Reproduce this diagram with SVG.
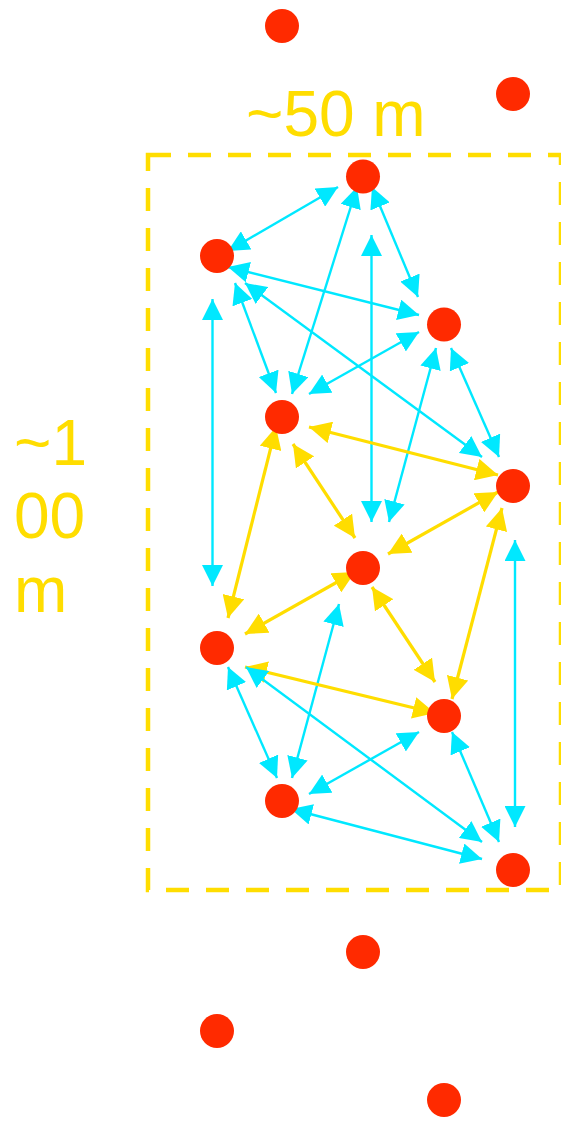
<svg xmlns="http://www.w3.org/2000/svg" width="561" height="1122" viewBox="0 0 561 1122">
<style>
.n{fill:#FF2A00}
.c{stroke:#00E8FF;stroke-width:2.4;fill:none;marker-start:url(#ac);marker-end:url(#ac)}
.y{stroke:#FFDD00;stroke-width:3.2;fill:none;marker-start:url(#ay);marker-end:url(#ay)}
.t{fill:#FFDD00;font-family:"Liberation Sans",Arial,sans-serif;font-size:64px}
</style>
<defs>
<marker id="ac" viewBox="0 0 21 21" refX="21" refY="10.5" markerWidth="21" markerHeight="21" markerUnits="userSpaceOnUse" orient="auto-start-reverse"><path d="M0,0 L21,10.5 L0,21 z" fill="#00E8FF"/></marker>
<marker id="ay" viewBox="0 0 22 22" refX="22" refY="11" markerWidth="22" markerHeight="22" markerUnits="userSpaceOnUse" orient="auto-start-reverse"><path d="M0,0 L22,11 L0,22 z" fill="#FFDD00"/></marker>
</defs>
<rect x="148" y="155" width="413" height="735" fill="none" stroke="#FFDD00" stroke-width="4.5" stroke-dasharray="23 17"/>
<text class="t" x="246" y="136">~50 m</text>
<text class="t" x="14" y="465">~1</text>
<text class="t" x="14" y="538">00</text>
<text class="t" x="14" y="611.5">m</text>
<g id="connectors">
<line class="c" x1="338" y1="187" x2="228" y2="251"/>
<line class="c" x1="357" y1="187" x2="292" y2="394"/>
<line class="c" x1="372" y1="187" x2="418" y2="297"/>
<line class="c" x1="371.5" y1="235" x2="371.5" y2="522"/>
<line class="c" x1="228" y1="267" x2="419" y2="315"/>
<line class="c" x1="235" y1="283" x2="276" y2="393"/>
<line class="c" x1="245" y1="283" x2="482" y2="457"/>
<line class="c" x1="419" y1="332" x2="309" y2="394"/>
<line class="c" x1="436" y1="348" x2="389" y2="522"/>
<line class="c" x1="451" y1="348" x2="499" y2="457"/>
<line class="c" x1="212.5" y1="299" x2="212.5" y2="586"/>
<line class="c" x1="515" y1="540" x2="515" y2="827"/>
<line class="c" x1="228" y1="667" x2="277" y2="778"/>
<line class="c" x1="339" y1="604" x2="292" y2="778"/>
<line class="c" x1="419" y1="732" x2="309" y2="794"/>
<line class="c" x1="452" y1="732" x2="499" y2="842"/>
<line class="c" x1="291" y1="809" x2="482" y2="859"/>
<line class="y" x1="309" y1="427" x2="498" y2="475"/>
<line class="y" x1="276" y1="427" x2="228" y2="618"/>
<line class="y" x1="293" y1="444" x2="355" y2="538"/>
<line class="y" x1="498" y1="492" x2="388" y2="554"/>
<line class="y" x1="502" y1="508" x2="452" y2="699"/>
<line class="y" x1="355" y1="572" x2="245" y2="634"/>
<line class="y" x1="372" y1="587" x2="435" y2="682"/>
<line class="y" x1="245" y1="667" x2="435" y2="713"/>
<line class="c" x1="246" y1="667" x2="482" y2="842"/>
</g>
<g id="nA"><circle class="n" cx="282" cy="26" r="17"/></g>
<g id="nB"><circle class="n" cx="513" cy="94" r="17"/></g>
<g id="n1"><circle class="n" cx="363" cy="176.5" r="17"/></g>
<g id="n2"><circle class="n" cx="217" cy="256" r="17"/></g>
<g id="n3"><circle class="n" cx="444" cy="324.5" r="17"/></g>
<g id="n4"><circle class="n" cx="282" cy="417" r="17"/></g>
<g id="n5"><circle class="n" cx="513" cy="486" r="17"/></g>
<g id="n6"><circle class="n" cx="363" cy="568" r="17"/></g>
<g id="n7"><circle class="n" cx="217" cy="648" r="17"/></g>
<g id="n8"><circle class="n" cx="444" cy="716" r="17"/></g>
<g id="n9"><circle class="n" cx="282" cy="801" r="17"/></g>
<g id="n10"><circle class="n" cx="513" cy="870" r="17"/></g>
<g id="nC"><circle class="n" cx="363" cy="952" r="17"/></g>
<g id="nD"><circle class="n" cx="217" cy="1031" r="17"/></g>
<g id="nE"><circle class="n" cx="444" cy="1100" r="17"/></g>
</svg>
